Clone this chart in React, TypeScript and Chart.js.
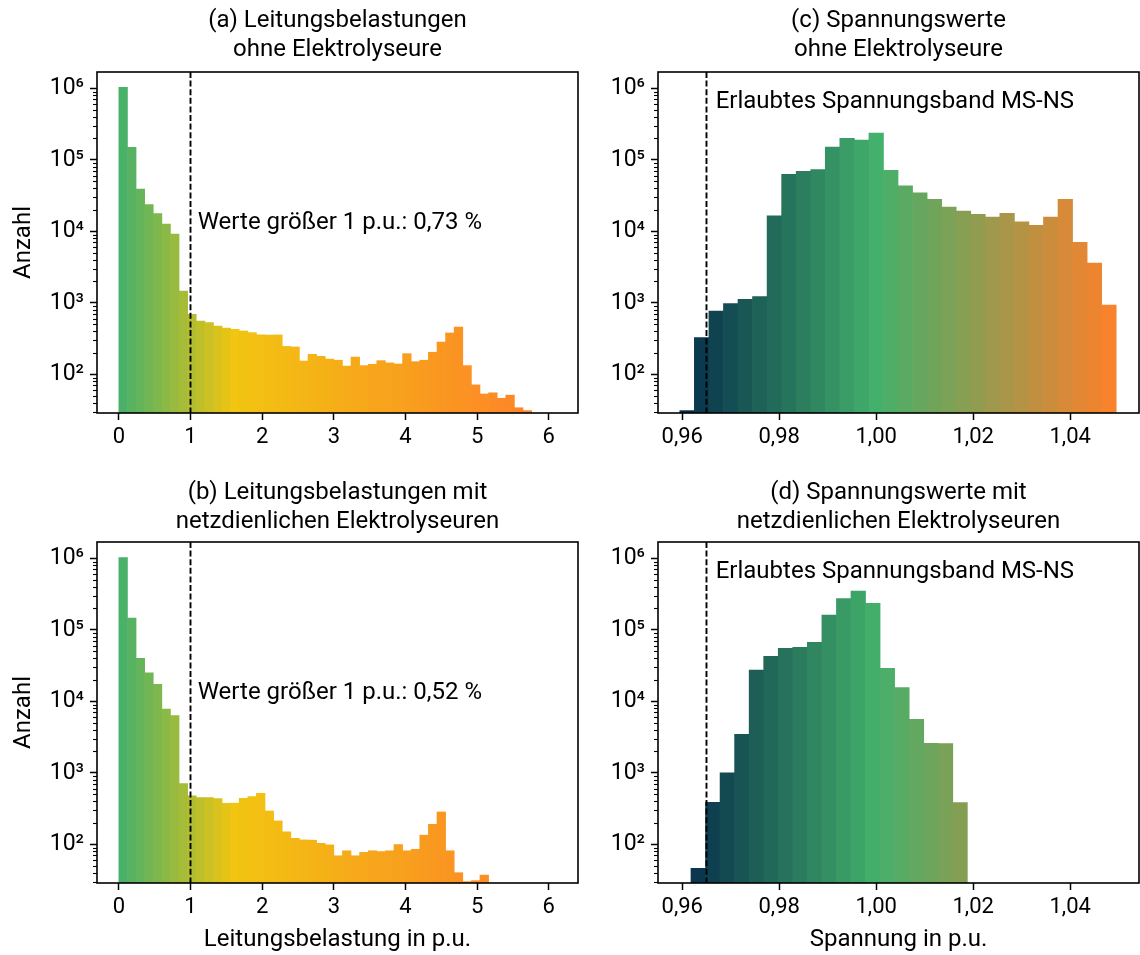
import React, { useEffect, useRef } from "react";
import { Chart, registerables } from "chart.js";

Chart.register(...registerables);
Chart.defaults.font.family = "Roboto, 'DejaVu Sans', sans-serif";
Chart.defaults.color = "#000";

// ---------------- data ----------------
// Line loading histograms (bin left edges in p.u., counts)
const loadBinWidth = 0.12;
const loadBinsA = [
  0, 0.12, 0.24, 0.36, 0.48, 0.6, 0.72, 0.84, 0.96, 1.08, 1.2, 1.32, 1.44, 1.56, 1.68, 1.8,
  1.92, 2.04, 2.16, 2.28, 2.4, 2.52, 2.64, 2.76, 2.88, 3.0, 3.12, 3.24, 3.36, 3.48, 3.6, 3.72,
  3.84, 3.96, 4.08, 4.2, 4.32, 4.44, 4.56, 4.68, 4.8, 4.92, 5.04, 5.16, 5.28, 5.4, 5.52, 5.64,
];
const loadCountsA = [
  1030000, 149000, 39000, 23700, 17700, 12600, 9100, 1460, 690, 556, 528, 473, 443, 426, 403, 382,
  356, 353, 355, 245, 241, 153, 190, 178, 163, 157, 130, 174, 132, 138, 155, 144,
  139, 194, 150, 157, 203, 282, 378, 458, 132, 71, 53, 55, 46, 51, 34, 31,
];
const loadBinsB = [
  0, 0.12, 0.24, 0.36, 0.48, 0.6, 0.72, 0.84, 0.96, 1.08, 1.2, 1.32, 1.44, 1.56, 1.68, 1.8,
  1.92, 2.04, 2.16, 2.28, 2.4, 2.52, 2.64, 2.76, 2.88, 3.0, 3.12, 3.24, 3.36, 3.48, 3.6, 3.72,
  3.84, 3.96, 4.08, 4.2, 4.32, 4.44, 4.56, 4.68, 4.8, 4.92, 5.04,
];
const loadCountsB = [
  1020000, 146000, 40000, 25000, 17300, 7800, 6300, 705, 476, 449, 450, 434, 374, 376, 440, 463,
  517, 292, 212, 149, 121, 115, 114, 103, 98, 69, 81, 69, 77, 81, 79, 81,
  99, 81, 85, 134, 190, 283, 81, 40, 30, 31, 37,
];

// Voltage histograms (bin left edges in p.u., counts)
const voltBinWidth = 0.003;
const voltBinsC = [
  0.9595, 0.9625, 0.9655, 0.9685, 0.9715, 0.9745, 0.9775, 0.9805, 0.9835, 0.9865, 0.9895, 0.9925,
  0.9955, 0.9985, 1.0015, 1.0045, 1.0075, 1.0105, 1.0135, 1.0165, 1.0195, 1.0225, 1.0255, 1.0285,
  1.0315, 1.0345, 1.0375, 1.0405, 1.0435, 1.0465,
];
const voltCountsC = [
  31, 326, 762, 977, 1120, 1220, 16500, 62500, 68900, 72700, 151000, 200000,
  189000, 237000, 71000, 43300, 34600, 27900, 21800, 19200, 17200, 15800, 17800, 13600,
  12100, 15800, 27900, 6980, 3580, 925,
];
const voltBinsD = [
  0.9618, 0.9648, 0.9678, 0.9708, 0.9738, 0.9768, 0.9798, 0.9828, 0.9858, 0.9888, 0.9918, 0.9948,
  0.9978, 1.0008, 1.0038, 1.0068, 1.0098, 1.0128, 1.0158,
];
const voltCountsD = [
  46, 387, 1000, 3450, 27200, 42600, 55000, 56900, 66800, 160000, 273000, 349000,
  235000, 29000, 15500, 5600, 2590, 2550, 383,
];

const loadTickValues = [0, 1, 2, 3, 4, 5, 6];
const voltTickValues = [0.96, 0.98, 1.0, 1.02, 1.04];
const countMin = 28.7;
const countMax = 1.69e6;
const loadLimit = 1;
const voltLimit = 0.965;
const loadXMin = -0.305;
const loadXMax = 6.408;
const voltXMin = 0.955;
const voltXMax = 1.0542;

// ---------------- style ----------------
const FONT = "Roboto, 'DejaVu Sans', sans-serif";
const loadColorStops: [number, number[]][] = [
  [0, [67, 176, 108]],
  [1.6, [241, 197, 16]],
  [6.1, [255, 126, 42]],
];
const voltColorStops: [number, number[]][] = [
  [0.9595, [4, 42, 74]],
  [1.0, [67, 176, 107]],
  [1.0497, [255, 128, 42]],
];

function colorAt(stops: [number, number[]][], v: number): string {
  if (v <= stops[0][0]) return `rgb(${stops[0][1].join(",")})`;
  for (let i = 1; i < stops.length; i++) {
    if (v <= stops[i][0]) {
      const [a, ca] = stops[i - 1];
      const [b, cb] = stops[i];
      const t = (v - a) / (b - a);
      const c = ca.map((x, k) => Math.round(x + (cb[k] - x) * t));
      return `rgb(${c.join(",")})`;
    }
  }
  return `rgb(${stops[stops.length - 1][1].join(",")})`;
}

const SUP = "⁰¹²³⁴⁵⁶⁷⁸⁹";
function powLabel(v: number): string {
  const e = Math.round(Math.log10(v));
  if (Math.abs(v - Math.pow(10, e)) > 1e-6 * v) return "";
  return "10" + String(e).split("").map((d) => SUP[+d]).join("");
}

type PanelProps = {
  left: number;
  top: number;
  width: number;
  height: number;
  yAxisWidth: number;
  padRight: number;
  xAxisHeight: number;
  titlePadTop: number;
  title: string[];
  bins: number[];
  counts: number[];
  binWidth: number;
  stops: [number, number[]][];
  xMin: number;
  xMax: number;
  tickValues: number[];
  fmt: (v: number) => string;
  limit: number;
  note: string;
  noteX: number;
  noteY: number;
  yTitle?: string;
  xTitle?: string;
};

function HistPanel(p: PanelProps) {
  const ref = useRef<HTMLCanvasElement>(null);
  useEffect(() => {
    const canvas = ref.current;
    if (!canvas) return;
    const centers = p.bins.map((e) => e + p.binWidth / 2);
    const colors = centers.map((c) => colorAt(p.stops, c));

    const decoPlugin = {
      id: "deco",
      afterDraw(chart: any) {
        const { ctx, chartArea, scales } = chart;
        const y = scales.y;
        ctx.save();
        ctx.strokeStyle = "#000";
        ctx.lineWidth = 1.1;
        y.ticks.forEach((t: any) => {
          if (t.major) return;
          const py = Math.round(y.getPixelForValue(t.value)) + 0.5;
          ctx.beginPath();
          ctx.moveTo(chartArea.left - 4, py);
          ctx.lineTo(chartArea.left, py);
          ctx.stroke();
        });
        ctx.lineWidth = 1.6;
        ctx.strokeRect(chartArea.left, chartArea.top, chartArea.right - chartArea.left, chartArea.bottom - chartArea.top);
        ctx.restore();
      },
      afterDatasetsDraw(chart: any) {
        const { ctx, scales } = chart;
        ctx.save();
        ctx.font = `24px ${FONT}`;
        ctx.fillStyle = "#000";
        ctx.textAlign = "left";
        ctx.textBaseline = "middle";
        ctx.fillText(p.note, scales.x.getPixelForValue(p.noteX), scales.y.getPixelForValue(p.noteY));
        ctx.restore();
      },
    };

    const chart = new Chart(canvas, {
      type: "bar",
      data: {
        datasets: [
          {
            type: "line",
            data: [
              { x: p.limit, y: countMax },
              { x: p.limit, y: countMin },
            ],
            borderColor: "#000",
            borderWidth: 1.9,
            borderDash: [6, 2.6],
            pointRadius: 0,
            fill: false,
            order: 0,
          } as any,
          {
            type: "bar",
            data: centers.map((x, i) => ({ x, y: p.counts[i] })),
            backgroundColor: colors,
            borderWidth: 0,
            barPercentage: 1,
            categoryPercentage: 1,
            order: 1,
          } as any,
        ],
      },
      options: {
        animation: false,
        responsive: false,
        maintainAspectRatio: false,
        devicePixelRatio: 1,
        events: [],
        layout: { padding: { left: 0, right: p.padRight, top: 0, bottom: 0 } },
        plugins: {
          legend: { display: false },
          tooltip: { enabled: false },
          title: {
            display: true,
            text: p.title,
            fullSize: false,
            color: "#000",
            font: { family: FONT, size: 24, weight: "normal", lineHeight: 1.2 },
            padding: { top: p.titlePadTop, bottom: 72 - 57.6 - p.titlePadTop },
          },
        },
        scales: {
          x: {
            type: "linear",
            min: p.xMin,
            max: p.xMax,
            offset: false,
            afterBuildTicks: (s: any) => {
              s.ticks = p.tickValues.map((v) => ({ value: v }));
            },
            afterFit: (s: any) => {
              s.height = p.xAxisHeight;
            },
            ticks: {
              autoSkip: false,
              maxRotation: 0,
              padding: 4,
              color: "#000",
              font: { family: FONT, size: 22 },
              callback: (v: any) => p.fmt(Number(v)),
            },
            grid: {
              display: true,
              offset: false,
              drawOnChartArea: false,
              drawTicks: true,
              tickLength: 7,
              tickColor: "#000",
              tickWidth: 1.5,
            },
            border: { display: false },
            title: {
              display: !!p.xTitle,
              text: p.xTitle || "",
              color: "#000",
              font: { family: FONT, size: 24, lineHeight: 1.2 },
              padding: { top: 0, bottom: 0.6 },
            },
          },
          y: {
            type: "logarithmic",
            min: countMin,
            max: countMax,
            afterBuildTicks: (s: any) => {
              const ticks: any[] = [];
              for (let e = 1; e <= 6; e++) {
                for (let m = 1; m <= 9; m++) {
                  const v = m * Math.pow(10, e);
                  if (v >= countMin && v <= countMax) ticks.push({ value: v, major: m === 1 });
                }
              }
              s.ticks = ticks;
            },
            afterFit: (s: any) => {
              s.width = p.yAxisWidth;
            },
            ticks: {
              autoSkip: false,
              padding: 6,
              color: "#000",
              font: { family: FONT, size: 23 },
              callback: (v: any) => powLabel(Number(v)),
            },
            grid: {
              display: true,
              drawOnChartArea: false,
              drawTicks: true,
              tickLength: 7,
              tickWidth: 1.5,
              tickColor: (c: any) => (c.tick && c.tick.major ? "#000" : "rgba(0,0,0,0)"),
            },
            border: { display: false },
            title: {
              display: !!p.yTitle,
              text: p.yTitle || "",
              color: "#000",
              font: { family: FONT, size: 24, lineHeight: 1.2 },
              padding: { top: 9.6, bottom: 0 },
            },
          },
        },
      } as any,
      plugins: [decoPlugin],
    });
    return () => chart.destroy();
  }, []);
  return (
    <canvas
      ref={ref}
      width={p.width}
      height={p.height}
      style={{ position: "absolute", left: p.left, top: p.top, width: p.width, height: p.height }}
    />
  );
}

const fmtLoad = (v: number) => String(Math.round(v));
const fmtVolt = (v: number) => v.toFixed(2).replace(".", ",");

export default function App() {
  return (
    <div style={{ position: "absolute", left: 0, top: 0, width: 1140, height: 955, background: "#fff", overflow: "hidden" }}>
      <HistPanel
        left={0} top={0} width={600} height={470} yAxisWidth={97} padRight={22} xAxisHeight={57} titlePadTop={7}
        title={["(a) Leitungsbelastungen", "ohne Elektrolyseure"]}
        bins={loadBinsA} counts={loadCountsA} binWidth={loadBinWidth} stops={loadColorStops}
        xMin={loadXMin} xMax={loadXMax} tickValues={loadTickValues} fmt={fmtLoad}
        limit={loadLimit} note="Werte größer 1 p.u.: 0,73 %" noteX={1.1} noteY={1.3e4}
        yTitle="Anzahl"
      />
      <HistPanel
        left={600} top={0} width={540} height={470} yAxisWidth={58} padRight={1} xAxisHeight={57} titlePadTop={7}
        title={["(c) Spannungswerte", "ohne Elektrolyseure"]}
        bins={voltBinsC} counts={voltCountsC} binWidth={voltBinWidth} stops={voltColorStops}
        xMin={voltXMin} xMax={voltXMax} tickValues={voltTickValues} fmt={fmtVolt}
        limit={voltLimit} note="Erlaubtes Spannungsband MS-NS" noteX={0.9669} noteY={6.5e5}
      />
      <HistPanel
        left={0} top={470} width={600} height={485} yAxisWidth={97} padRight={22} xAxisHeight={72} titlePadTop={8.5}
        title={["(b) Leitungsbelastungen mit", "netzdienlichen Elektrolyseuren"]}
        bins={loadBinsB} counts={loadCountsB} binWidth={loadBinWidth} stops={loadColorStops}
        xMin={loadXMin} xMax={loadXMax} tickValues={loadTickValues} fmt={fmtLoad}
        limit={loadLimit} note="Werte größer 1 p.u.: 0,52 %" noteX={1.1} noteY={1.3e4}
        yTitle="Anzahl" xTitle="Leitungsbelastung in p.u."
      />
      <HistPanel
        left={600} top={470} width={540} height={485} yAxisWidth={58} padRight={1} xAxisHeight={72} titlePadTop={8.5}
        title={["(d) Spannungswerte mit", "netzdienlichen Elektrolyseuren"]}
        bins={voltBinsD} counts={voltCountsD} binWidth={voltBinWidth} stops={voltColorStops}
        xMin={voltXMin} xMax={voltXMax} tickValues={voltTickValues} fmt={fmtVolt}
        limit={voltLimit} note="Erlaubtes Spannungsband MS-NS" noteX={0.9669} noteY={6.5e5}
        xTitle="Spannung in p.u."
      />
    </div>
  );
}
